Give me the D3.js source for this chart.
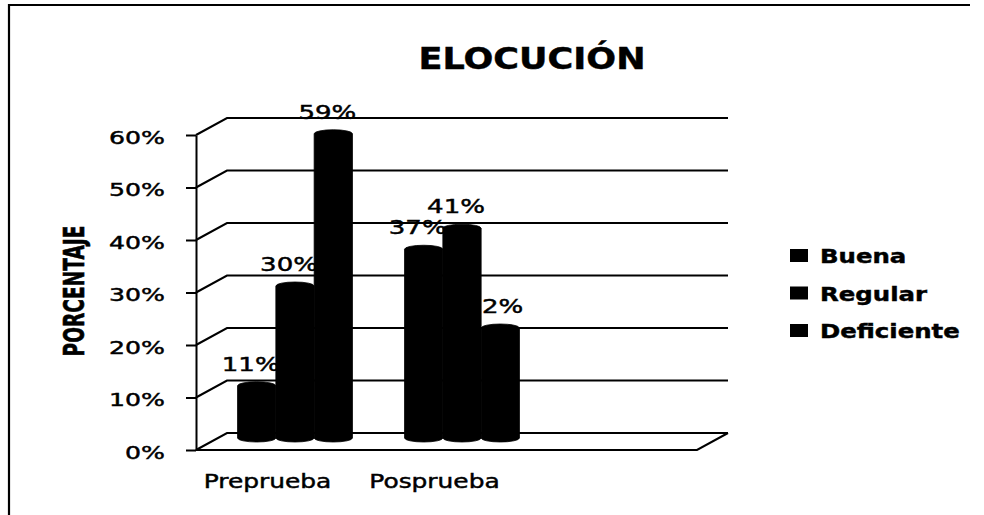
<!DOCTYPE html>
<head>
  <script src="https://d3js.org/d3.v7.min.js"></script>
  <style>
    body { margin: 0; overflow: hidden; background: #fff; }
    text { font-family: "DejaVu Sans", sans-serif; fill: #000; stroke: #000; stroke-width: 0.45px; }
  </style>
</head>
<body>
  <svg width="984" height="515"></svg>
  <script>
    (function (d3) {
      'use strict';

      const titleText = 'ELOCUCIÓN';
      const yAxisLabelText = 'PORCENTAJE';
      const categories = ['Preprueba', 'Posprueba'];
      const series = ['Buena', 'Regular', 'Deficiente'];
      const buena = [0.11, 0.37];
      const regular = [0.30, 0.41];
      const deficiente = [0.59, 0.22];
      const yTicks = [0, 0.1, 0.2, 0.3, 0.4, 0.5, 0.6];

      const values = [buena, regular, deficiente];
      const data = [];
      categories.forEach((c, i) => {
        series.forEach((s, j) => data.push({ cat: c, ser: s, value: values[j][i] }));
      });

      const svg = d3.select('svg');

      // front plane of the 3d box + depth offset
      const left = 196, right = 697, bottom = 450, top = 135;
      const depth = { dx: 31, dy: -17 };
      const mid = { dx: depth.dx / 2, dy: depth.dy / 2 };

      const yScale = d3.scaleLinear().domain([0, 0.6]).range([bottom, top]);
      // third, empty slot like the original sheet
      const xScale = d3.scaleBand().domain([...categories, '_blank']).range([left, right]);
      const xInner = d3.scaleBand().domain(series)
        .range([0, xScale.bandwidth()])
        .paddingInner(0).paddingOuter(0.68);

      // frame (left + top only)
      svg.append('path')
        .attr('d', 'M9,515 L9,5 L970,5')
        .attr('fill', 'none').attr('stroke', '#000').attr('stroke-width', 2.2);

      // back wall gridlines
      svg.append('g').selectAll('path').data(yTicks)
        .enter().append('path')
          .attr('d', d => `M${left},${yScale(d)} L${left + depth.dx},${yScale(d) + depth.dy} L${right + depth.dx},${yScale(d) + depth.dy}`)
          .attr('fill', 'none').attr('stroke', '#000').attr('stroke-width', 2);

      // floor
      svg.append('path')
        .attr('d', `M${left},${bottom} L${right},${bottom} L${right + depth.dx},${bottom + depth.dy}`)
        .attr('fill', 'none').attr('stroke', '#000').attr('stroke-width', 2);

      // y axis
      const sxTick = 1.4;
      const yAxisG = svg.append('g')
        .attr('transform', `translate(${left},0)`)
        .call(d3.axisLeft(yScale).tickValues(yTicks).tickFormat(d3.format('.0%')).tickSize(10).tickSizeOuter(0));
      yAxisG.select('.domain').attr('stroke-width', 2);
      yAxisG.selectAll('.tick line').attr('stroke-width', 2);
      yAxisG.selectAll('.tick text')
        .attr('x', -31 / sxTick)
        .attr('dy', '0.45em')
        .attr('transform', `scale(${sxTick},1)`)
        .attr('stroke', '#000').attr('stroke-width', 0.45)
        .style('font-family', '"DejaVu Sans", sans-serif')
        .style('font-size', '18px');

      // data labels (under the bars, the bars cut them like in the original)
      const sxLabel = 1.37;
      svg.append('g').selectAll('text').data(data)
        .enter().append('text')
          .attr('text-anchor', 'middle')
          .style('font-size', '19px')
          .attr('transform', d => {
            const x = xScale(d.cat) + xInner(d.ser) + xInner.bandwidth() / 2 + mid.dx - 6;
            const y = yScale(d.value) + mid.dy - 13;
            return `translate(${x},${y}) scale(${sxLabel},1)`;
          })
          .text(d => d3.format('.0%')(d.value));

      // cylinders
      const ry = 4;
      const cylinder = d => {
        const x0 = xScale(d.cat) + xInner(d.ser) + mid.dx;
        const w = xInner.bandwidth();
        const yt = yScale(d.value) + mid.dy - 2;
        const yb = yScale(0) + mid.dy + 0.5;
        return `M${x0},${yt + ry} A${w / 2},${ry} 0 0 1 ${x0 + w},${yt + ry}` +
          ` L${x0 + w},${yb - ry} A${w / 2},${ry} 0 0 1 ${x0},${yb - ry} Z`;
      };
      svg.append('g').selectAll('path').data(data)
        .enter().append('path')
          .attr('d', cylinder)
          .attr('fill', '#000')
          .attr('stroke', '#000').attr('stroke-width', 0.8);

      // category labels
      svg.append('g').selectAll('text').data(categories)
        .enter().append('text')
          .attr('text-anchor', 'middle')
          .style('font-size', '19px')
          .attr('transform', d => `translate(${xScale(d) + xScale.bandwidth() / 2 - 12},488) scale(1.31,1)`)
          .text(d => d);

      // title
      svg.append('text')
        .attr('text-anchor', 'middle')
        .style('font-size', '30px').style('font-weight', 'bold')
        .attr('transform', 'translate(532,69) scale(1.17,1)')
        .text(titleText);

      // y axis title
      svg.append('text')
        .attr('text-anchor', 'middle')
        .style('font-size', '20px').style('font-weight', 'bold')
        .attr('transform', 'translate(84,291) rotate(-90) scale(0.93,1.4)')
        .text(yAxisLabelText);

      // legend
      const legend = svg.append('g').selectAll('g').data(series)
        .enter().append('g')
          .attr('transform', (d, i) => `translate(790,${263 + i * 37.5})`);
      legend.append('rect')
        .attr('x', 0).attr('y', -14).attr('width', 18).attr('height', 13)
        .attr('fill', '#000');
      legend.append('text')
        .attr('transform', 'translate(30,0) scale(1.22,1)')
        .style('font-size', '20px').style('font-weight', 'bold')
        .text(d => d);

    }(d3));
  </script>
</body>
